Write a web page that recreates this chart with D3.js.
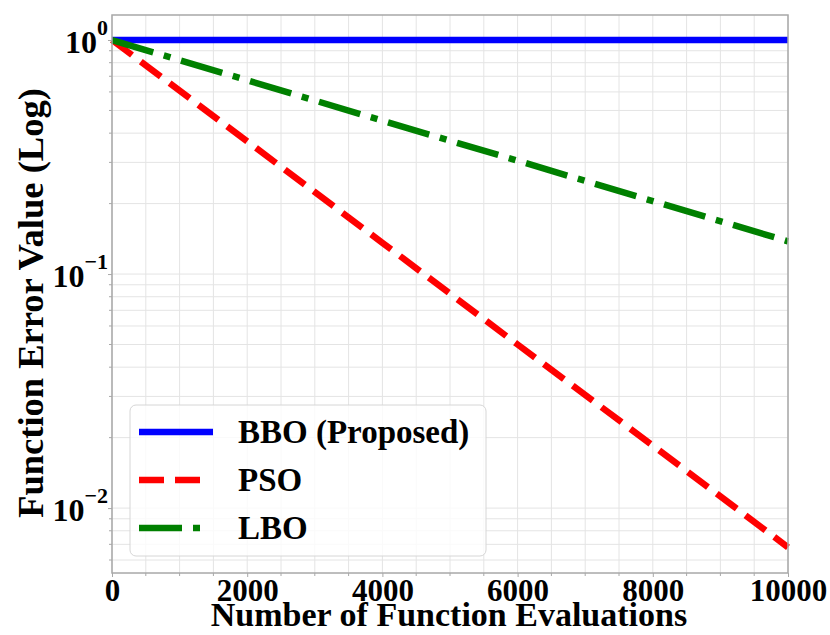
<!DOCTYPE html>
<html>
<head>
<meta charset="utf-8">
<script src="https://cdn.jsdelivr.net/npm/d3@7"></script>
<style>
  html, body { margin: 0; padding: 0; background: #fff; }
  svg { display: block; }
  text { font-family: "Liberation Serif", "Times New Roman", serif; font-weight: bold; fill: #000; }
</style>
</head>
<body>
<svg id="chart" width="830" height="635"></svg>
<script>
// Function evaluations at which the error was recorded
const evaluations = [0, 2000, 4000, 6000, 8000, 10000];
// Function error value per algorithm
const bboError = [1, 1, 1, 1, 1, 1];
const psoError = [1, 0.369, 0.136, 0.050, 0.0185, 0.0068];
const lboError = [1, 0.673, 0.452, 0.305, 0.205, 0.138];

const seriesNames = ["BBO (Proposed)", "PSO", "LBO"];
const seriesColors = ["#0000ff", "#ff0000", "#008000"];
const seriesDash = [null, "25,11", "43,11,7,11"];
const xTickValues = [0, 2000, 4000, 6000, 8000, 10000];
const yTickExponents = [0, -1, -2];

const svg = d3.select("#chart");
const plotLeft = 112, plotRight = 788, plotTop = 15, plotBottom = 573;

const x = d3.scaleLinear().domain([0, 10000]).range([plotLeft, plotRight]);
const y = d3.scaleLog().domain([0.00528, 1.279]).range([plotBottom, plotTop]);

// Grid: every 500 evaluations, and every log minor step
const xGrid = d3.range(0, 10001, 500);
const yGrid = [];
for (let e = -3; e <= 0; e++) {
  for (let m = 1; m <= 9; m++) {
    const v = m * Math.pow(10, e);
    if (v >= y.domain()[0] && v <= y.domain()[1]) yGrid.push(v);
  }
}
const grid = svg.append("g");
grid.selectAll("line.vx").data(xGrid).join("line")
  .attr("x1", d => x(d)).attr("x2", d => x(d))
  .attr("y1", plotTop).attr("y2", plotBottom)
  .attr("stroke", "#e4e4e4").attr("stroke-width", 1);
grid.selectAll("line.hy").data(yGrid).join("line")
  .attr("x1", plotLeft).attr("x2", plotRight)
  .attr("y1", d => y(d)).attr("y2", d => y(d))
  .attr("stroke", "#e4e4e4").attr("stroke-width", 1);

// Series lines
const line = d3.line().x(d => x(d[0])).y(d => y(d[1]));
const allSeries = [bboError, psoError, lboError];
const plot = svg.append("g");
allSeries.forEach((vals, i) => {
  plot.append("path")
    .datum(evaluations.map((e, k) => [e, vals[k]]))
    .attr("d", line)
    .attr("fill", "none")
    .attr("stroke", seriesColors[i])
    .attr("stroke-width", 6.5)
    .attr("stroke-dasharray", seriesDash[i])
    .attr("stroke-linecap", "butt");
});

// Frame
svg.append("rect")
  .attr("x", plotLeft).attr("y", plotTop)
  .attr("width", plotRight - plotLeft).attr("height", plotBottom - plotTop)
  .attr("fill", "none").attr("stroke", "#a8a8a8").attr("stroke-width", 1.5);

// X axis
const xAxis = d3.axisBottom(x).tickValues(xTickValues).tickFormat(d3.format("d")).tickSize(4).tickPadding(2);
const gx = svg.append("g").attr("transform", `translate(0,${plotBottom})`).call(xAxis);
gx.select(".domain").remove();
gx.selectAll(".tick line").attr("stroke", "#a8a8a8");
gx.selectAll(".tick text").style("font-size", "31px").attr("dy", "0.7em");
svg.append("g").selectAll("line").data(xGrid.filter(d => d % 2000 !== 0)).join("line")
  .attr("x1", d => x(d)).attr("x2", d => x(d))
  .attr("y1", plotBottom).attr("y2", plotBottom + 3)
  .attr("stroke", "#a8a8a8");

// Y axis with power-of-ten labels
const yAxis = d3.axisLeft(y).tickValues(yTickExponents.map(e => Math.pow(10, e))).tickFormat("").tickSize(4);
const gy = svg.append("g").attr("transform", `translate(${plotLeft},0)`).call(yAxis);
gy.select(".domain").remove();
gy.selectAll(".tick line").attr("stroke", "#a8a8a8");
svg.append("g").selectAll("line").data(yGrid.filter(v => !yTickExponents.some(e => Math.abs(v - Math.pow(10, e)) < 1e-12))).join("line")
  .attr("x1", plotLeft - 3).attr("x2", plotLeft)
  .attr("y1", d => y(d)).attr("y2", d => y(d))
  .attr("stroke", "#a8a8a8");
yTickExponents.forEach(e => {
  const t = svg.append("text")
    .attr("x", plotLeft - 4).attr("y", y(Math.pow(10, e)) + 13)
    .attr("text-anchor", "end")
    .style("font-size", "32px");
  t.append("tspan").text("10");
  t.append("tspan").attr("dy", -18).style("font-size", "22px")
    .text(e < 0 ? "\u2212" + Math.abs(e) : String(e));
});

// Axis titles
svg.append("text")
  .attr("x", (plotLeft + plotRight) / 2 - 1).attr("y", 626)
  .attr("text-anchor", "middle").style("font-size", "34px")
  .text("Number of Function Evaluations");
svg.append("text")
  .attr("transform", `translate(43,${(plotTop + plotBottom) / 2 + 9}) rotate(-90)`)
  .attr("text-anchor", "middle").style("font-size", "36.5px")
  .text("Function Error Value (Log)");

// Legend
const legend = svg.append("g");
legend.append("rect")
  .attr("x", 130).attr("y", 405).attr("width", 356).attr("height", 151)
  .attr("rx", 6).attr("ry", 6)
  .attr("fill", "rgba(255,255,255,0.8)").attr("stroke", "#d6d6d6").attr("stroke-width", 1);
seriesNames.forEach((name, i) => {
  const cy = 432 + i * 48;
  legend.append("line")
    .attr("x1", 139).attr("x2", i === 0 ? 213 : 203)
    .attr("y1", cy).attr("y2", cy)
    .attr("stroke", seriesColors[i]).attr("stroke-width", 6.5)
    .attr("stroke-dasharray", seriesDash[i]);
  legend.append("text")
    .attr("x", 238).attr("y", cy + 11)
    .style("font-size", "33px")
    .text(name);
});
</script>
</body>
</html>
